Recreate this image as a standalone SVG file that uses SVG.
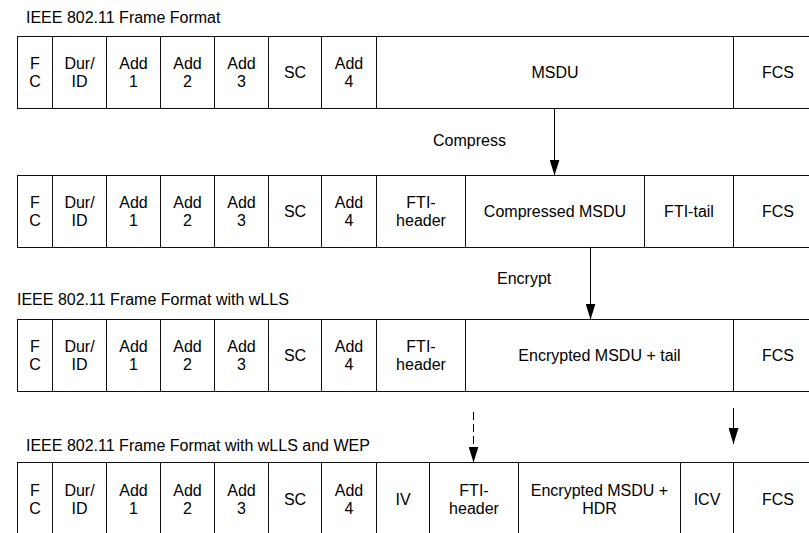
<svg xmlns="http://www.w3.org/2000/svg" width="809" height="533" viewBox="0 0 809 533">
<style>
.c{fill:#fff;stroke:#111;stroke-width:1}
.t{font-family:"Liberation Sans",Arial,sans-serif;font-size:16px;fill:#000;text-anchor:middle}
.h{font-family:"Liberation Sans",Arial,sans-serif;font-size:16px;fill:#000}
.a{stroke:#000;stroke-width:1;fill:none}
.d{stroke-dasharray:8 4}
</style>
<defs>
<marker id="ah" viewBox="0 0 16 10" refX="16" refY="5" markerWidth="16" markerHeight="10" markerUnits="userSpaceOnUse" orient="auto">
<path d="M0,0 L16,5 L0,10 z" fill="#000"/>
</marker>
</defs>
<rect width="809" height="533" fill="#fff"/>

<text class="h" x="26" y="23">IEEE 802.11 Frame Format</text>
<text class="h" x="17" y="305">IEEE 802.11 Frame Format with wLLS</text>
<text class="h" x="26" y="451">IEEE 802.11 Frame Format with wLLS and WEP</text>

<g id="row1">
<g id="r1-fc"><rect class="c" x="17.5" y="36.5" width="35" height="72"/><text class="t" x="35" y="68.8">F</text><text class="t" x="35" y="87.2">C</text></g>
<g id="r1-dur"><rect class="c" x="52.5" y="36.5" width="54" height="72"/><text class="t" x="79.5" y="68.8">Dur/</text><text class="t" x="79.5" y="87.2">ID</text></g>
<g id="r1-add1"><rect class="c" x="106.5" y="36.5" width="54" height="72"/><text class="t" x="133.5" y="68.8">Add</text><text class="t" x="133.5" y="87.2">1</text></g>
<g id="r1-add2"><rect class="c" x="160.5" y="36.5" width="54" height="72"/><text class="t" x="187.5" y="68.8">Add</text><text class="t" x="187.5" y="87.2">2</text></g>
<g id="r1-add3"><rect class="c" x="214.5" y="36.5" width="54" height="72"/><text class="t" x="241.5" y="68.8">Add</text><text class="t" x="241.5" y="87.2">3</text></g>
<g id="r1-sc"><rect class="c" x="268.5" y="36.5" width="53" height="72"/><text class="t" x="295" y="78">SC</text></g>
<g id="r1-add4"><rect class="c" x="321.5" y="36.5" width="55" height="72"/><text class="t" x="349" y="68.8">Add</text><text class="t" x="349" y="87.2">4</text></g>
<g id="r1-msdu"><rect class="c" x="376.5" y="36.5" width="357" height="72"/><text class="t" x="555" y="78">MSDU</text></g>
<g id="r1-fcs"><rect class="c" x="733.5" y="36.5" width="90" height="72"/><text class="t" x="778" y="78">FCS</text></g>
</g>

<g id="row2">
<g id="r2-fc"><rect class="c" x="17.5" y="175.5" width="35" height="72"/><text class="t" x="35" y="208">F</text><text class="t" x="35" y="226.4">C</text></g>
<g id="r2-dur"><rect class="c" x="52.5" y="175.5" width="54" height="72"/><text class="t" x="79.5" y="208">Dur/</text><text class="t" x="79.5" y="226.4">ID</text></g>
<g id="r2-add1"><rect class="c" x="106.5" y="175.5" width="54" height="72"/><text class="t" x="133.5" y="208">Add</text><text class="t" x="133.5" y="226.4">1</text></g>
<g id="r2-add2"><rect class="c" x="160.5" y="175.5" width="54" height="72"/><text class="t" x="187.5" y="208">Add</text><text class="t" x="187.5" y="226.4">2</text></g>
<g id="r2-add3"><rect class="c" x="214.5" y="175.5" width="54" height="72"/><text class="t" x="241.5" y="208">Add</text><text class="t" x="241.5" y="226.4">3</text></g>
<g id="r2-sc"><rect class="c" x="268.5" y="175.5" width="53" height="72"/><text class="t" x="295" y="217.2">SC</text></g>
<g id="r2-add4"><rect class="c" x="321.5" y="175.5" width="55" height="72"/><text class="t" x="349" y="208">Add</text><text class="t" x="349" y="226.4">4</text></g>
<g id="r2-ftih"><rect class="c" x="376.5" y="175.5" width="89" height="72"/><text class="t" x="421" y="208">FTI-</text><text class="t" x="421" y="226.4">header</text></g>
<g id="r2-cmsdu"><rect class="c" x="465.5" y="175.5" width="179" height="72"/><text class="t" x="555" y="217.2">Compressed MSDU</text></g>
<g id="r2-ftit"><rect class="c" x="644.5" y="175.5" width="89" height="72"/><text class="t" x="689" y="217.2">FTI-tail</text></g>
<g id="r2-fcs"><rect class="c" x="733.5" y="175.5" width="90" height="72"/><text class="t" x="778" y="217.2">FCS</text></g>
</g>

<g id="row3">
<g id="r3-fc"><rect class="c" x="17.5" y="319.5" width="35" height="72"/><text class="t" x="35" y="352">F</text><text class="t" x="35" y="370.4">C</text></g>
<g id="r3-dur"><rect class="c" x="52.5" y="319.5" width="54" height="72"/><text class="t" x="79.5" y="352">Dur/</text><text class="t" x="79.5" y="370.4">ID</text></g>
<g id="r3-add1"><rect class="c" x="106.5" y="319.5" width="54" height="72"/><text class="t" x="133.5" y="352">Add</text><text class="t" x="133.5" y="370.4">1</text></g>
<g id="r3-add2"><rect class="c" x="160.5" y="319.5" width="54" height="72"/><text class="t" x="187.5" y="352">Add</text><text class="t" x="187.5" y="370.4">2</text></g>
<g id="r3-add3"><rect class="c" x="214.5" y="319.5" width="54" height="72"/><text class="t" x="241.5" y="352">Add</text><text class="t" x="241.5" y="370.4">3</text></g>
<g id="r3-sc"><rect class="c" x="268.5" y="319.5" width="53" height="72"/><text class="t" x="295" y="361.2">SC</text></g>
<g id="r3-add4"><rect class="c" x="321.5" y="319.5" width="55" height="72"/><text class="t" x="349" y="352">Add</text><text class="t" x="349" y="370.4">4</text></g>
<g id="r3-ftih"><rect class="c" x="376.5" y="319.5" width="89" height="72"/><text class="t" x="421" y="352">FTI-</text><text class="t" x="421" y="370.4">header</text></g>
<g id="r3-emsdu"><rect class="c" x="465.5" y="319.5" width="268" height="72"/><text class="t" x="599.5" y="361.2">Encrypted MSDU + tail</text></g>
<g id="r3-fcs"><rect class="c" x="733.5" y="319.5" width="90" height="72"/><text class="t" x="778" y="361.2">FCS</text></g>
</g>

<g id="row4">
<g id="r4-fc"><rect class="c" x="17.5" y="462.5" width="35" height="80"/><text class="t" x="35" y="495.5">F</text><text class="t" x="35" y="514">C</text></g>
<g id="r4-dur"><rect class="c" x="52.5" y="462.5" width="54" height="80"/><text class="t" x="79.5" y="495.5">Dur/</text><text class="t" x="79.5" y="514">ID</text></g>
<g id="r4-add1"><rect class="c" x="106.5" y="462.5" width="54" height="80"/><text class="t" x="133.5" y="495.5">Add</text><text class="t" x="133.5" y="514">1</text></g>
<g id="r4-add2"><rect class="c" x="160.5" y="462.5" width="54" height="80"/><text class="t" x="187.5" y="495.5">Add</text><text class="t" x="187.5" y="514">2</text></g>
<g id="r4-add3"><rect class="c" x="214.5" y="462.5" width="54" height="80"/><text class="t" x="241.5" y="495.5">Add</text><text class="t" x="241.5" y="514">3</text></g>
<g id="r4-sc"><rect class="c" x="268.5" y="462.5" width="53" height="80"/><text class="t" x="295" y="504.7">SC</text></g>
<g id="r4-add4"><rect class="c" x="321.5" y="462.5" width="55" height="80"/><text class="t" x="349" y="495.5">Add</text><text class="t" x="349" y="514">4</text></g>
<g id="r4-iv"><rect class="c" x="376.5" y="462.5" width="53" height="80"/><text class="t" x="403" y="504.7">IV</text></g>
<g id="r4-ftih"><rect class="c" x="429.5" y="462.5" width="89" height="80"/><text class="t" x="474" y="495.5">FTI-</text><text class="t" x="474" y="514">header</text></g>
<g id="r4-emsdu"><rect class="c" x="518.5" y="462.5" width="162" height="80"/><text class="t" x="599.5" y="495.5">Encrypted MSDU +</text><text class="t" x="599.5" y="514">HDR</text></g>
<g id="r4-icv"><rect class="c" x="680.5" y="462.5" width="53" height="80"/><text class="t" x="707" y="504.7">ICV</text></g>
<g id="r4-fcs"><rect class="c" x="733.5" y="462.5" width="90" height="80"/><text class="t" x="778" y="504.7">FCS</text></g>
</g>

<g id="connectors">
<line class="a" x1="554.5" y1="108.5" x2="554.5" y2="175.5" marker-end="url(#ah)"/>
<text class="h" x="433" y="146">Compress</text>
<line class="a" x1="590.5" y1="247.5" x2="590.5" y2="319.5" marker-end="url(#ah)"/>
<text class="h" x="497" y="284">Encrypt</text>
<line class="a d" x1="473.5" y1="412" x2="473.5" y2="462.5" marker-end="url(#ah)"/>
<line class="a" x1="733.5" y1="408" x2="733.5" y2="444" marker-end="url(#ah)"/>
</g>
</svg>
